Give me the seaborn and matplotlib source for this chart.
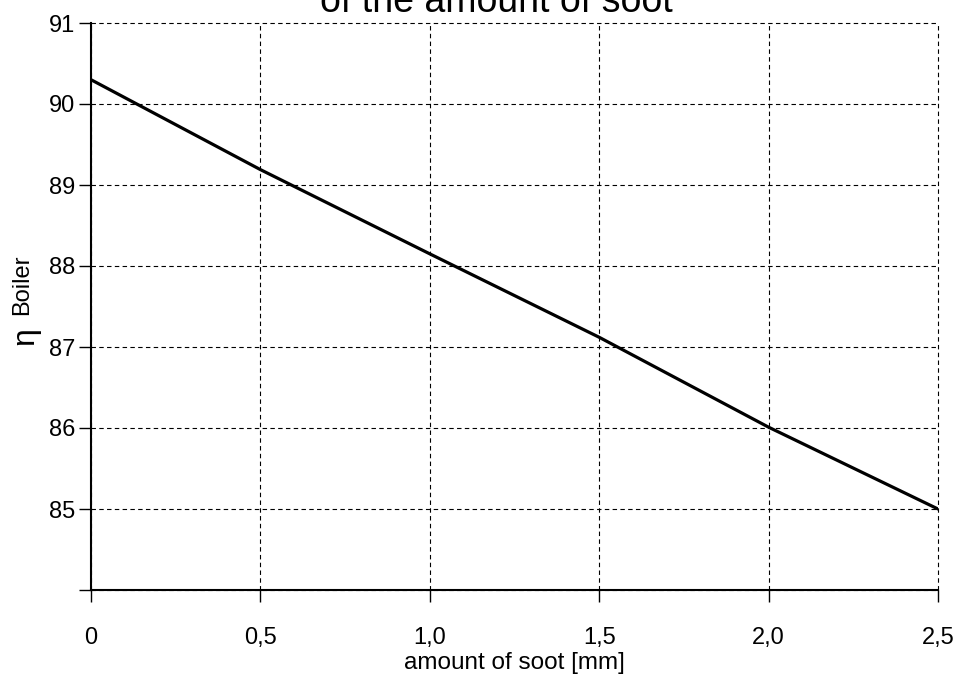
import matplotlib
matplotlib.use("Agg")
import matplotlib.pyplot as plt
import seaborn as sns
import pandas as pd

soot_mm = [0.0, 0.5, 1.0, 1.5, 2.0, 2.5]
eta_boiler = [90.30, 89.19, 88.15, 87.12, 86.01, 85.00]
x_ticks = [0.0, 0.5, 1.0, 1.5, 2.0, 2.5]
x_tick_labels = ["0", "0,5", "1,0", "1,5", "2,0", "2,5"]
y_ticks = [84, 85, 86, 87, 88, 89, 90, 91]
y_tick_labels = ["", "85", "86", "87", "88", "89", "90", "91"]
title_text = "of the amount of soot"

sns.set_style("white")
plt.rcParams["font.family"] = ["Liberation Sans", "DejaVu Sans"]
plt.rcParams["text.color"] = "black"
plt.rcParams["axes.labelcolor"] = "black"
plt.rcParams["xtick.color"] = "black"
plt.rcParams["ytick.color"] = "black"

df = pd.DataFrame({"soot": soot_mm, "eta": eta_boiler})

fig = plt.figure(figsize=(9.59, 6.77), dpi=100)
ax = fig.add_axes([91/959, 1-590/677, (938-91)/959, (590-23)/677])

sns.lineplot(data=df, x="soot", y="eta", ax=ax, color="black", linewidth=2.3)

ax.set_xlim(0, 2.5)
ax.set_ylim(84, 91)
ax.set_xticks(x_ticks)
ax.set_xticklabels(x_tick_labels, fontsize=17, color="black")
ax.set_yticks(y_ticks)
ax.set_yticklabels(y_tick_labels, fontsize=17, color="black")
ax.tick_params(axis="x", bottom=True, direction="out", length=8.5, width=1, pad=18, color="black")
ax.tick_params(axis="y", left=True, direction="out", length=8.5, width=1, pad=3, color="black")

ax.grid(True, linestyle=(0, (4, 3)), color="black", linewidth=0.8)
for gl in ax.get_xgridlines() + ax.get_ygridlines():
    gl.set_clip_on(False)
for s in ["top", "right"]:
    ax.spines[s].set_visible(False)
for s in ["left", "bottom"]:
    ax.spines[s].set_color("black")
    ax.spines[s].set_linewidth(1.5)
    ax.spines[s].set_zorder(3)

ax.set_xlabel("amount of soot [mm]", fontsize=17.5, color="black")
ax.xaxis.set_label_coords(0.5, -(663-590)/567)
ax.xaxis.label.set_va("center")
ax.set_ylabel("")

fig.text(25/959, 1-336/677, "η", rotation=90, fontsize=23, ha="center", va="center", color="black")
fig.text(22/959, 1-285/677, "Boiler", rotation=90, fontsize=17, ha="center", va="center", color="black")

fig.text(496/959, 1-12/677, title_text, fontsize=27, ha="center", va="baseline", color="black")

fig.savefig("out.png", dpi=100)
